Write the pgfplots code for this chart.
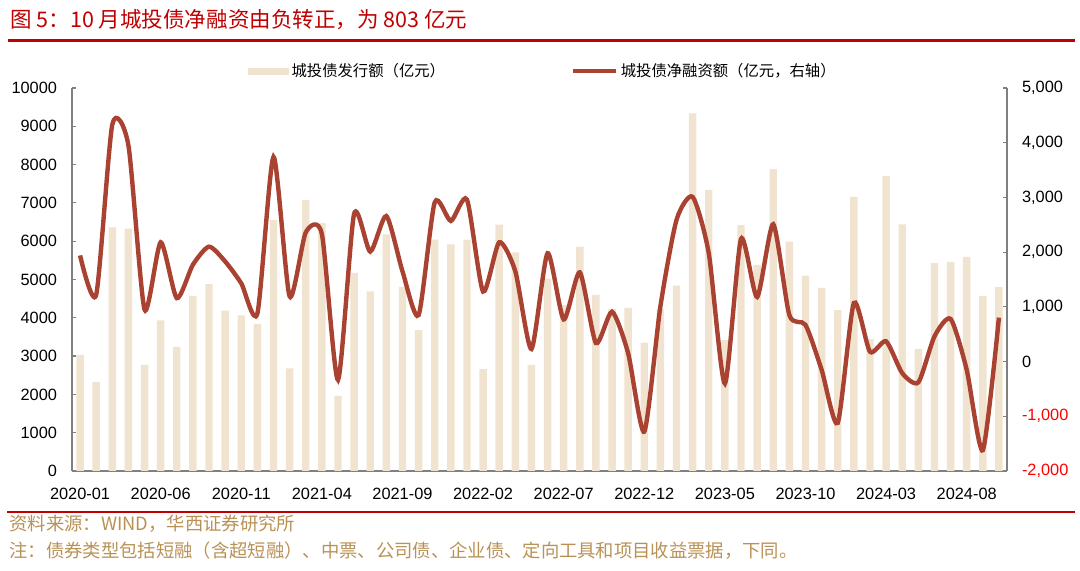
\documentclass[border=0pt]{standalone}
\usepackage{pgfplots}
\pgfplotsset{compat=1.18}
\usepackage{pgfplotstable}
\usepackage{fontspec}
\setmainfont{Liberation Sans}
\newfontfamily\cjk{Noto Sans CJK SC}
\definecolor{barc}{RGB}{240,227,208}
\definecolor{linec}{RGB}{170,66,50}
\definecolor{titred}{RGB}{192,0,0}
\definecolor{srcc}{RGB}{185,145,85}
\definecolor{axc}{RGB}{128,128,128}

\pgfplotstableread{
x issue net
0 3030 1940
1 2320 1220
2 6360 4330
3 6330 3950
4 2770 950
5 3930 2180
6 3240 1160
7 4570 1770
8 4880 2100
9 4190 1830
10 4060 1430
11 3840 880
12 6550 3740
13 2680 1190
14 7080 2360
15 6470 2330
16 1960 -335
17 5170 2700
18 4690 2010
19 6180 2660
20 4810 1650
21 3680 850
22 6040 2910
23 5920 2570
24 6040 2960
25 2660 1280
26 6430 2180
27 5710 1650
28 2770 230
29 5020 1980
30 4330 770
31 5860 1630
32 4600 340
33 4230 910
34 4260 150
35 3350 -1280
36 4230 1010
37 4840 2590
38 9340 3010
39 7340 1980
40 3420 -400
41 6420 2240
42 5380 1180
43 7880 2510
44 5990 850
45 5100 670
46 4780 -150
47 4200 -1120
48 7160 1070
49 3440 180
50 7700 370
51 6440 -210
52 3180 -380
53 5430 460
54 5460 780
55 5590 -150
56 4570 -1620
57 4800 803
}\data

\begin{document}
\begin{tikzpicture}
\path[use as bounding box] (0,0) rectangle (540bp,285.5bp);
\node[anchor=west, text=titred, font=\cjk\fontsize{10.8}{12}\selectfont, inner sep=0pt] at (5bp,275.75bp) {图 5：10 月城投债净融资由负转正，为 803 亿元};
\draw[titred, line width=1.2bp] (4bp,265.2bp) -- (537.5bp,265.2bp);
\draw[titred, line width=1.2bp] (3.5bp,29.6bp) -- (537.5bp,29.6bp);
\node[anchor=west, text=srcc, font=\cjk\fontsize{9.2}{10}\selectfont, inner sep=0pt] at (4.5bp,23.5bp) {资料来源：WIND，华西证券研究所};
\node[anchor=west, text=srcc, font=\cjk\fontsize{9.2}{10}\selectfont, inner sep=0pt] at (4.5bp,10bp) {注：债券类型包括短融（含超短融）、中票、公司债、企业债、定向工具和项目收益票据，下同。};

\begin{axis}[
  at={(36bp,50bp)}, anchor=south west, scale only axis,
  width=467.5bp, height=191.5bp,
  xmin=-0.5, xmax=57.5, ymin=0, ymax=10000,
  axis y line*=left, axis x line*=bottom,
  axis line style={-, axc, line width=0.6bp},
  xtick={0,5,...,55},
  xticklabels={2020-01,2020-06,2020-11,2021-04,2021-09,2022-02,2022-07,2022-12,2023-05,2023-10,2024-03,2024-08},
  xtick style={draw=none},
  xticklabel style={font=\fontsize{8.2}{10}\selectfont, yshift=-3bp},
  ytick={0,1000,...,10000},
  scaled y ticks=false,
  tick align=inside, major tick length=2bp,
  ytick style={axc, line width=0.6bp},
  yticklabel style={font=\fontsize{8.2}{10}\selectfont, /pgf/number format/1000 sep={}, /pgf/number format/assume math mode=true, xshift=-4bp},
  ybar, bar width=0.46,
  clip=false,
]
\addplot[fill=barc, draw=none] table[x=x,y=issue]{\data};
\end{axis}

\begin{axis}[
  at={(36bp,50bp)}, anchor=south west, scale only axis,
  width=467.5bp, height=191.5bp,
  xmin=-0.5, xmax=57.5, ymin=-2000, ymax=5000,
  axis y line*=right, axis x line=none,
  axis line style={-, axc, line width=0.6bp},
  ytick={-2000,-1000,...,5000},
  yticklabels={\textcolor{red}{-2,000},\textcolor{red}{-1,000},0,{1,000},{2,000},{3,000},{4,000},{5,000}},
  tick align=inside, major tick length=2bp,
  ytick style={axc, line width=0.6bp},
  yticklabel style={font=\fontsize{8.2}{10}\selectfont, xshift=4bp},
  legend columns=2,
  legend style={at={(0.504,1.044)}, anchor=center, draw=none, fill=none,
    font=\cjk\fontsize{7.7}{9}\selectfont,
    /tikz/every even column/.append style={column sep=62bp},
    nodes={inner sep=1.2bp}},
]
\addlegendimage{legend image code/.code={\fill[barc] (0bp,-1.4bp) rectangle (20bp,1.4bp);}}
\addlegendentry{城投债发行额（亿元）}
\addplot[linec, line width=2.2bp, smooth, tension=0.4, legend image code/.code={\draw[linec, line width=2bp] (0bp,0bp) -- (21.5bp,0bp);}] table[x=x,y=net]{\data};
\addlegendentry{城投债净融资额（亿元，右轴）}
\end{axis}
\end{tikzpicture}
\end{document}
